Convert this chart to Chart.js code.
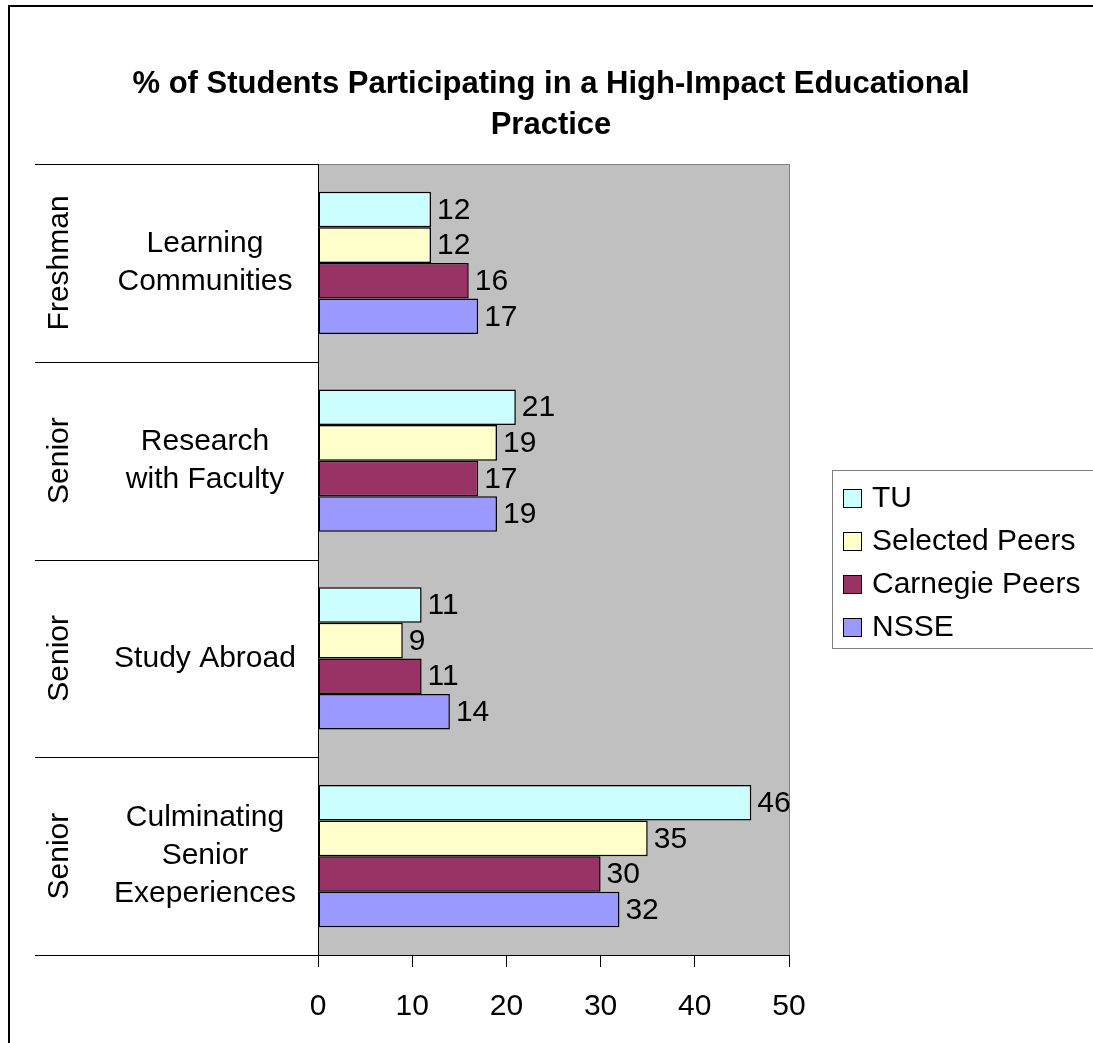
<!DOCTYPE html>
<html lang="en">
<head>
<meta charset="UTF-8">
<title>% of Students Participating in a High-Impact Educational Practice</title>
<script src="https://cdn.jsdelivr.net/npm/chart.js@4.4.1/dist/chart.umd.min.js"></script>
<style>
   html, body { margin: 0; padding: 0; background: #fff; }
   .chart-box { width: 1093px; height: 1043px; position: relative; }
</style>
</head>
<body>
<div class="chart-box">
   <canvas id="myChart" width="1093" height="1043"></canvas>
</div>
<script>
   const titleLines = ['% of Students Participating in a High-Impact Educational', 'Practice'];
   const categories = [['Learning', 'Communities'], ['Research', 'with Faculty'], ['Study Abroad'], ['Culminating', 'Senior', 'Exeperiences']];
   const groups = ['Freshman', 'Senior', 'Senior', 'Senior'];
   const seriesNames = ['TU', 'Selected Peers', 'Carnegie Peers', 'NSSE'];
   const tuValues = [12, 21, 11, 46];
   const selectedValues = [12, 19, 9, 35];
   const carnegieValues = [16, 17, 11, 30];
   const nsseValues = [17, 19, 14, 32];
   const xTicks = [0, 10, 20, 30, 40, 50];
   const colors = ['#CCFFFF', '#FFFFCC', '#993366', '#9999FF'];

   const FONT = "'Liberation Sans', Arial, sans-serif";

   const datasets = [tuValues, selectedValues, carnegieValues, nsseValues].map((vals, i) => ({
      label: seriesNames[i],
      data: vals,
      backgroundColor: colors[i],
      borderColor: '#000',
      borderWidth: 1.5,
      borderSkipped: false,
      categoryPercentage: 0.72,
      barPercentage: 1.0
   }));

   // frame, title, plot background, category labels, value labels and legend
   const decor = {
      id: 'decor',
      beforeDraw(chart) {
         const { ctx, chartArea: a } = chart;
         ctx.save();
         ctx.fillStyle = '#fff';
         ctx.fillRect(0, 0, chart.width, chart.height);
         ctx.strokeStyle = '#000';
         ctx.lineWidth = 2;
         ctx.strokeRect(9, 6, 1100, 1100);

         ctx.fillStyle = '#000';
         ctx.font = 'bold 31px ' + FONT;
         ctx.textAlign = 'center';
         ctx.textBaseline = 'middle';
         titleLines.forEach((t, i) => ctx.fillText(t, 551, 84 + i * 41));

         ctx.fillStyle = '#C0C0C0';
         ctx.fillRect(a.left, a.top, a.right - a.left, a.bottom - a.top);
         ctx.strokeStyle = '#808080';
         ctx.lineWidth = 1;
         ctx.strokeRect(a.left + 0.5, a.top + 0.5, a.right - a.left, a.bottom - a.top);
         ctx.restore();
      },
      afterDatasetsDraw(chart) {
         const { ctx, chartArea: a } = chart;
         const y = chart.scales.y;
         const step = (a.bottom - a.top) / categories.length;
         ctx.save();
         // axis line + category separators
         ctx.strokeStyle = '#000';
         ctx.lineWidth = 1;
         ctx.beginPath();
         ctx.moveTo(a.left + 0.5, a.top);
         ctx.lineTo(a.left + 0.5, a.bottom);
         for (let i = 0; i <= categories.length; i++) {
            const yy = Math.round(i < categories.length ? y.getPixelForValue(i) - step / 2 : y.getPixelForValue(i - 1) + step / 2) + 0.5;
            ctx.moveTo(35, yy);
            ctx.lineTo(a.left, yy);
         }
         ctx.stroke();

         ctx.fillStyle = '#000';
         ctx.font = '30px ' + FONT;
         ctx.textAlign = 'center';
         ctx.textBaseline = 'middle';
         categories.forEach((lines, i) => {
            const cy = y.getPixelForValue(i);
            const lh = 38;
            lines.forEach((l, j) => ctx.fillText(l, 205, cy + (j - (lines.length - 1) / 2) * lh));
            ctx.save();
            ctx.translate(60, cy);
            ctx.rotate(-Math.PI / 2);
            ctx.fillText(groups[i], 0, 0);
            ctx.restore();
         });

         // value labels
         ctx.textAlign = 'left';
         chart.data.datasets.forEach((ds, di) => {
            chart.getDatasetMeta(di).data.forEach((bar, i) => {
               ctx.fillText(String(ds.data[i]), bar.x + 6, bar.y + 1);
            });
         });

         // legend
         const lx = 832, ly = 470, lw = 270, lh2 = 178;
         ctx.fillStyle = '#fff';
         ctx.fillRect(lx, ly, lw, lh2);
         ctx.strokeStyle = '#808080';
         ctx.strokeRect(lx + 0.5, ly + 0.5, lw, lh2);
         chart.data.datasets.forEach((ds, i) => {
            const ry = 498 + i * 43;
            ctx.fillStyle = ds.backgroundColor;
            ctx.fillRect(843, ry - 9, 18, 18);
            ctx.strokeStyle = '#000';
            ctx.strokeRect(843.5, ry - 8.5, 18, 18);
            ctx.fillStyle = '#000';
            ctx.fillText(ds.label, 872, ry + 1);
         });
         ctx.restore();
      }
   };

   const config = {
      type: 'bar',
      data: {
         labels: categories,
         datasets: datasets
      },
      options: {
         indexAxis: 'y',
         responsive: false,
         animation: false,
         layout: {
            padding: { left: 318, right: 304, top: 164, bottom: 0 }
         },
         plugins: {
            legend: { display: false },
            title: { display: false },
            tooltip: { enabled: false }
         },
         scales: {
            x: {
               min: xTicks[0],
               max: xTicks[xTicks.length - 1],
               afterBuildTicks(scale) {
                  scale.ticks = xTicks.map(v => ({ value: v }));
               },
               afterFit(scale) {
                  scale.height = 88;
               },
               ticks: {
                  color: '#000',
                  padding: 22,
                  font: { family: FONT, size: 30 }
               },
               grid: {
                  drawOnChartArea: false,
                  drawTicks: true,
                  tickLength: 12,
                  color: '#000'
               },
               border: { display: true, color: '#000' }
            },
            y: {
               display: false
            }
         }
      },
      plugins: [decor]
   };

   new Chart(document.getElementById('myChart').getContext('2d'), config);
</script>
</body>
</html>
